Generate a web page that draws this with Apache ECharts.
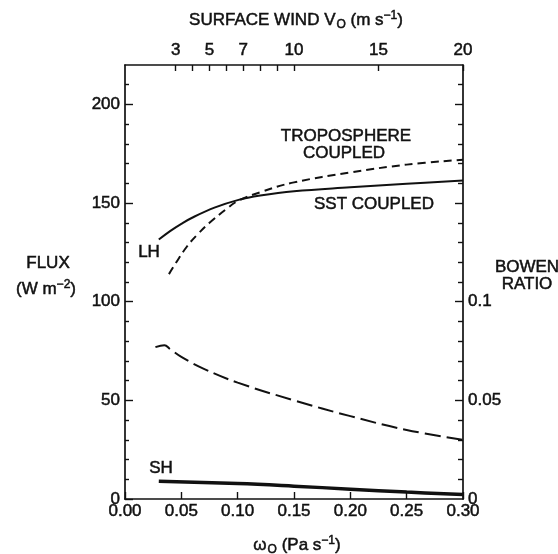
<!DOCTYPE html>
<html>
<head>
<meta charset="utf-8">
<script src="https://cdn.jsdelivr.net/npm/echarts@6/dist/echarts.min.js"></script>
<style>html,body{margin:0;padding:0;background:#fff}#c{width:558px;height:554px}</style>
</head>
<body>
<div id="c"></div>
<script>
// ---- data ----
const omegaLH = [0.03, 0.04, 0.05, 0.06, 0.08, 0.10, 0.12, 0.15, 0.20, 0.25, 0.30];
const lhSST   = [131.5, 135.8, 139.5, 142.7, 147.8, 151.5, 153.8, 156, 158, 159.8, 161.5];
const omegaTC = [0.039, 0.045, 0.055, 0.065, 0.075, 0.09, 0.10, 0.12, 0.15, 0.20, 0.25, 0.30];
const lhTrop  = [114, 119.5, 128, 134.5, 140, 147, 151, 155.5, 160.5, 165.5, 169.5, 172];
const omegaB  = [0.027, 0.035, 0.04, 0.05, 0.07, 0.10, 0.15, 0.20, 0.25, 0.30];
const bowen   = [0.077, 0.078, 0.076, 0.072, 0.066, 0.059, 0.050, 0.042, 0.035, 0.030];
const omegaSH = [0.03, 0.10, 0.15, 0.20, 0.25, 0.30];
const sh      = [9, 7.8, 6.5, 5, 3.5, 2.3];
const windLabels = [3, 5, 7, 10, 15, 20];
const windTicks  = [3, 4, 5, 6, 7, 8, 9, 10, 15, 20];
const fluxLabels = [0, 50, 100, 150, 200];
const fluxMinor  = [10, 20, 30, 40, 60, 70, 80, 90, 110, 120, 130, 140, 160, 170, 180, 190, 210];
const bowenLabels = [0, 0.05, 0.1];
const bowenMajor  = [0.05, 0.1, 0.15, 0.2];
const bowenMinor  = [0.01, 0.02, 0.03, 0.04, 0.06, 0.07, 0.08, 0.09, 0.11, 0.12, 0.13, 0.14, 0.16, 0.17, 0.18, 0.19, 0.21];

const pairs = (xs, ys) => xs.map((x, i) => [x, ys[i]]);
const FONT = 'Liberation Sans, Arial, sans-serif';
const INK = '#111';
const THICK = 0.5;
const lbl = {color: INK, fontFamily: FONT, fontSize: 17, textBorderColor: INK, textBorderWidth: THICK};
// zrender-style rich tokens for graphic text elements
const tok = (size, extra) => Object.assign({fontFamily: FONT, fontSize: size, fill: INK, stroke: INK, lineWidth: THICK}, extra);
const rich = {
  n:  tok(17, {lineHeight: 22}),
  sb: tok(12, {lineHeight: 12, padding: [10, 0, 0, 1]}),
  sp: tok(12, {lineHeight: 12, padding: [0, 0, 9, 0]})
};
function txt(x, y, text, align) {
  return {type: 'text', x: x, y: y, style: {text: text, rich: rich, align: align || 'center', verticalAlign: 'middle', font: '17px ' + FONT, fill: INK}};
}

const chart = echarts.init(document.getElementById('c'), null, {renderer: 'canvas'});
const axisLine = {show: true, onZero: false, lineStyle: {color: INK, width: 1.7}};
const noLine = {show: false, onZero: false};
chart.setOption({
  animation: false,
  backgroundColor: '#fff',
  grid: {left: 125, right: 95, top: 65, bottom: 55},
  xAxis: [
    {type: 'value', position: 'bottom', min: 0, max: 0.3, interval: 0.05,
     axisLine: axisLine, splitLine: {show: false},
     axisTick: {inside: true, length: 7, lineStyle: {color: INK, width: 1.4}},
     axisLabel: Object.assign({margin: 4, formatter: v => v.toFixed(2)}, lbl)},
    {type: 'value', position: 'top', min: 0, max: 20,
     axisLine: axisLine, splitLine: {show: false},
     axisTick: {inside: true, length: 6, customValues: windTicks, lineStyle: {color: INK, width: 1.4}},
     axisLabel: Object.assign({margin: 6, customValues: windLabels}, lbl)}
  ],
  yAxis: [
    {type: 'value', position: 'left', min: 0, max: 220,
     axisLine: axisLine, splitLine: {show: false},
     axisTick: {inside: true, length: 8, customValues: fluxLabels, lineStyle: {color: INK, width: 1.4}},
     axisLabel: Object.assign({margin: 5, customValues: fluxLabels}, lbl)},
    {type: 'value', position: 'right', min: 0, max: 0.22,
     axisLine: axisLine, splitLine: {show: false},
     axisTick: {inside: true, length: 8, customValues: bowenMajor, lineStyle: {color: INK, width: 1.4}},
     axisLabel: Object.assign({margin: 5, customValues: bowenLabels, formatter: v => v === 0 ? '0' : String(v)}, lbl)},
    {type: 'value', position: 'left', min: 0, max: 220,
     axisLine: noLine, splitLine: {show: false}, axisLabel: {show: false},
     axisTick: {inside: true, length: 4, customValues: fluxMinor, lineStyle: {color: INK, width: 1.4}}},
    {type: 'value', position: 'right', min: 0, max: 0.22,
     axisLine: noLine, splitLine: {show: false}, axisLabel: {show: false},
     axisTick: {inside: true, length: 5, customValues: bowenMinor, lineStyle: {color: INK, width: 1.4}}}
  ],
  series: [
    {name: 'LH SST coupled', type: 'line', xAxisIndex: 0, yAxisIndex: 0, data: pairs(omegaLH, lhSST),
     smooth: 0.4, showSymbol: false, lineStyle: {color: INK, width: 2}},
    {name: 'LH troposphere coupled', type: 'line', xAxisIndex: 0, yAxisIndex: 0, data: pairs(omegaTC, lhTrop),
     smooth: 0.4, showSymbol: false, lineStyle: {color: INK, width: 2, type: [8, 5]}},
    {name: 'Bowen ratio', type: 'line', xAxisIndex: 0, yAxisIndex: 1, data: pairs(omegaB, bowen),
     smooth: 0.4, showSymbol: false, lineStyle: {color: INK, width: 2, type: [16, 6]}},
    {name: 'SH', type: 'line', xAxisIndex: 0, yAxisIndex: 0, data: pairs(omegaSH, sh),
     smooth: 0.4, showSymbol: false, lineStyle: {color: INK, width: 3.5}}
  ],
  graphic: [
    txt(296, 20, '{n|SURFACE WIND V}{sb|O}{n| (m s}{sp|−1}{n|)}'),
    txt(297, 545, '{n|ω}{sb|O}{n| (Pa s}{sp|−1}{n|)}'),
    txt(48, 263, '{n|FLUX}'),
    txt(46, 289, '{n|(W m}{sp|−2}{n|)}'),
    txt(527, 267, '{n|BOWEN}'),
    txt(527, 284, '{n|RATIO}'),
    txt(149, 252, '{n|LH}'),
    txt(161, 468, '{n|SH}'),
    txt(346, 136, '{n|TROPOSPHERE}'),
    txt(344, 153, '{n|COUPLED}'),
    txt(374, 204, '{n|SST COUPLED}')
  ]
});
</script>
</body>
</html>
